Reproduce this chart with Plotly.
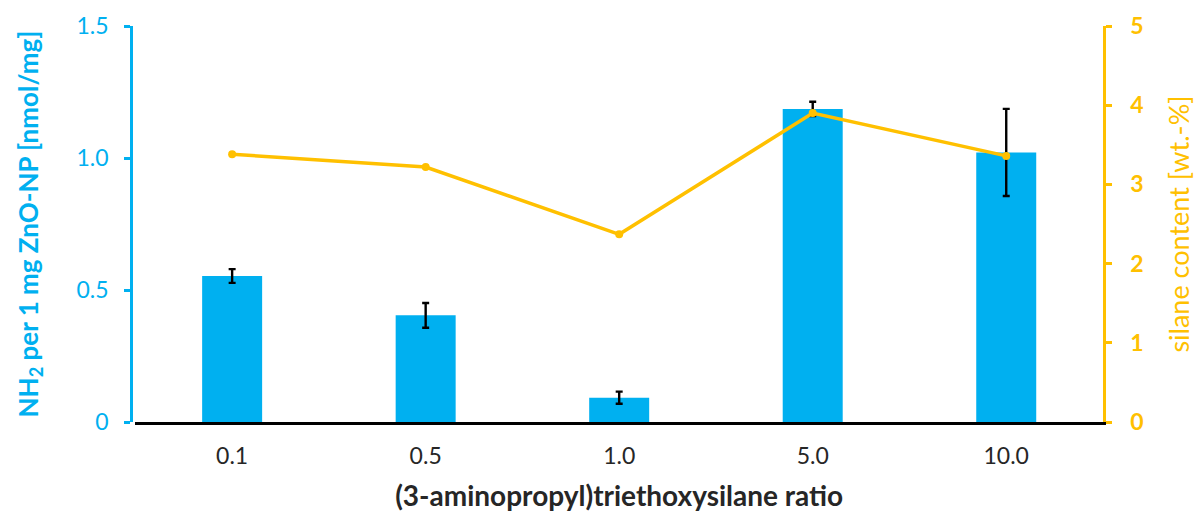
import plotly.graph_objects as go

# APTES ratio categories
ratios = ["0.1", "0.5", "1.0", "5.0", "10.0"]

# amine loading per mg ZnO nanoparticles (left axis) and its standard deviation
nh2_loading = [0.553, 0.404, 0.092, 1.186, 1.021]
nh2_error = [0.026, 0.047, 0.023, 0.027, 0.165]

# silane content from TGA (right axis)
silane_wt = [3.38, 3.22, 2.37, 3.90, 3.36]

left_ticks = [0, 0.5, 1.0, 1.5]
left_ticktext = ["0", "0.5", "1.0", "1.5"]
right_ticks = [0, 1, 2, 3, 4, 5]

BLUE = "#00B0F0"
GOLD = "#FFC000"
FONT = "Lato, Open Sans, sans-serif"

fig = go.Figure()

fig.add_trace(go.Bar(
    x=ratios,
    y=nh2_loading,
    marker=dict(color=BLUE, line=dict(width=0)),
    width=0.31,
    error_y=dict(type="data", array=nh2_error, visible=True,
                 color="black", thickness=2.4, width=3.5),
    yaxis="y",
    showlegend=False,
))

fig.add_trace(go.Scatter(
    x=ratios,
    y=silane_wt,
    mode="lines+markers",
    line=dict(color=GOLD, width=3.5),
    marker=dict(color=GOLD, size=8),
    yaxis="y2",
    showlegend=False,
))

fig.update_layout(
    width=1198,
    height=513,
    margin=dict(l=131, r=95, t=26, b=91),
    paper_bgcolor="white",
    plot_bgcolor="white",
    font=dict(family=FONT),
    xaxis=dict(
        type="category",
        domain=[0.0045, 1],
        automargin=False,
        showline=True,
        linecolor="black",
        linewidth=2.5,
        ticks="",
        showgrid=False,
        tickfont=dict(size=23, color="#262626"),
        title=dict(text="<b>(3-aminopropyl)triethoxysilane ratio</b>",
                   font=dict(size=28, color="#262626"), standoff=19),
        ticklabelstandoff=12,
    ),
    yaxis=dict(
        range=[0, 1.5],
        anchor="free",
        position=0,
        automargin=False,
        tickvals=left_ticks,
        ticktext=left_ticktext,
        showline=True,
        linecolor=BLUE,
        linewidth=2.5,
        ticks="outside",
        ticklen=6,
        tickwidth=2.5,
        tickcolor=BLUE,
        showgrid=False,
        zeroline=False,
        tickfont=dict(size=23, color=BLUE),
        title=dict(text="<b>NH<sub>2</sub> per 1 mg ZnO-NP [nmol/mg]</b>",
                   font=dict(size=26, color=BLUE), standoff=29),
        ticklabelstandoff=11,
    ),
    yaxis2=dict(
        range=[0, 5],
        automargin=False,
        tickvals=right_ticks,
        overlaying="y",
        side="right",
        showline=True,
        linecolor=GOLD,
        linewidth=2.5,
        ticks="outside",
        ticklen=6,
        tickwidth=2.5,
        tickcolor=GOLD,
        showgrid=False,
        zeroline=False,
        tickfont=dict(size=23, color=GOLD, weight="bold"),
        title=dict(text="silane content [wt.-%]",
                   font=dict(size=27, color=GOLD), standoff=28),
        ticklabelstandoff=14,
    ),
)

fig.write_html("out.html")
